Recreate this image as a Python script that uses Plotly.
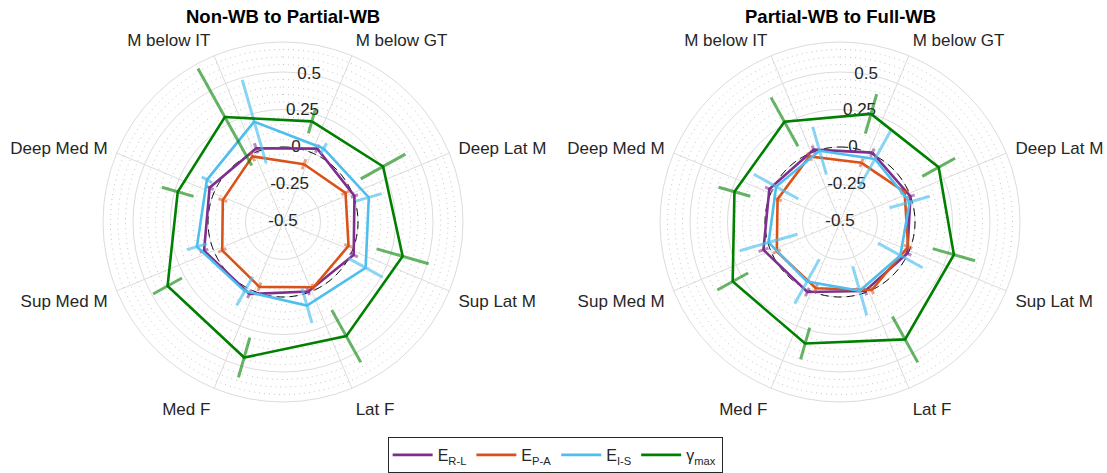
import numpy as np
import plotly.graph_objects as go

categories = ["M below GT", "Deep Lat M", "Sup Lat M", "Lat F",
              "Med F", "Sup Med M", "Deep Med M", "M below IT"]
series_names = ["E<sub>R-L</sub>", "E<sub>P-A</sub>", "E<sub>I-S</sub>", "γ<sub>max</sub>"]
panel_titles = ["Non-WB to Partial-WB", "Partial-WB to Full-WB"]
r_ticks = [-0.5, -0.25, 0, 0.25, 0.5]
r_tick_text = ["-0.5", "-0.25", "0", "0.25", "0.5"]

# Panel 1: Non-WB to Partial-WB
p1_RL = [0.04, 0.007, 0.02, -0.007, 0.03, 0.06, 0.04, 0.023]
p1_RL_err = [0.03, 0.025, 0.03, 0.025, 0.03, 0.03, 0.03, 0.035]
p1_PA = [-0.09, -0.04, -0.035, -0.02, -0.04, -0.053, -0.073, -0.017]
p1_PA_err = [0.035, 0.03, 0.03, 0.025, 0.03, 0.03, 0.03, 0.035]
p1_IS = [0.06, 0.095, 0.13, 0.08, 0.027, 0.097, 0.08, 0.196]
p1_IS_err = [0.04, 0.09, 0.13, 0.12, 0.11, 0.07, 0.04, 0.29]
p1_G = [0.198, 0.263, 0.33, 0.37, 0.44, 0.38, 0.23, 0.30]
p1_G_err = [0.083, 0.17, 0.18, 0.20, 0.137, 0.11, 0.11, 0.37]

# Panel 2: Partial-WB to Full-WB
p2_RL = [0.01, 0.0, -0.005, -0.01, 0.015, 0.043, 0.02, 0.013]
p2_RL_err = [0.03, 0.03, 0.03, 0.03, 0.03, 0.035, 0.03, 0.03]
p2_PA = [-0.08, -0.025, -0.017, 0.0, -0.03, -0.035, -0.057, -0.018]
p2_PA_err = [0.03, 0.03, 0.03, 0.03, 0.03, 0.03, 0.03, 0.03]
p2_IS = [-0.02, -0.017, -0.04, -0.023, -0.047, -0.005, -0.013, -0.006]
p2_IS_err = [0.22, 0.14, 0.17, 0.17, 0.17, 0.20, 0.17, 0.166]
p2_G = [0.25, 0.252, 0.29, 0.395, 0.343, 0.318, 0.232, 0.264]
p2_G_err = [0.137, 0.125, 0.147, 0.175, 0.11, 0.117, 0.11, 0.186]

panels = [
    [(p1_RL, p1_RL_err), (p1_PA, p1_PA_err), (p1_IS, p1_IS_err), (p1_G, p1_G_err)],
    [(p2_RL, p2_RL_err), (p2_PA, p2_PA_err), (p2_IS, p2_IS_err), (p2_G, p2_G_err)],
]

line_colors = ["#7E2F8E", "#D95319", "#4DBEEE", "#008000"]
bar_colors = ["rgba(126,47,142,0.55)", "rgba(217,83,25,0.55)",
              "rgba(77,190,238,0.65)", "rgba(0,128,0,0.6)"]
angle_offsets = [2.5, -2.5, 6.5, -6.5]

base_angles = [22.5 + 45 * i for i in range(len(categories))]
FONT = "Liberation Sans, Arial, sans-serif"
GRID = "#dcdcdc"

fig = go.Figure()
polar_ids = ["polar", "polar2"]

for pi, pid in enumerate(polar_ids):
    # minor dotted circles
    circ_t = np.linspace(0, 360, 361)
    for k in range(-9, 14):
        rv = round(k * 0.05, 4)
        if abs(rv / 0.25 - round(rv / 0.25)) < 1e-6:
            continue
        fig.add_trace(go.Scatterpolar(r=[rv] * len(circ_t), theta=circ_t, mode="lines",
                                      line=dict(color="#c4c4c4", width=1, dash="1px,4px"),
                                      hoverinfo="skip", showlegend=False, subplot=pid))
    # dashed zero circle
    fig.add_trace(go.Scatterpolar(r=[0] * len(circ_t), theta=circ_t, mode="lines",
                                  line=dict(color="black", width=1, dash="8px,5px"),
                                  hoverinfo="skip", showlegend=False, subplot=pid))
    # radial tick labels along 80 deg
    fig.add_trace(go.Scatterpolar(r=r_ticks, theta=[10] * len(r_ticks), mode="text",
                                  text=r_tick_text,
                                  textfont=dict(family=FONT, size=17, color="#262626"),
                                  hoverinfo="skip", showlegend=False, subplot=pid))
    for si, (vals, errs) in enumerate(panels[pi]):
        th = [a + angle_offsets[si] for a in base_angles]
        fig.add_trace(go.Scatterpolar(r=list(vals) + [vals[0]], theta=th + [th[0]],
                                      mode="lines", name=series_names[si],
                                      line=dict(color=line_colors[si], width=2.6),
                                      showlegend=(pi == 0), legendgroup=str(si),
                                      subplot=pid))
        er, et = [], []
        for v, e, t in zip(vals, errs, th):
            er += [v - e, v + e, None]
            et += [t, t, None]
        fig.add_trace(go.Scatterpolar(r=er, theta=et, mode="lines",
                                      line=dict(color=bar_colors[si], width=3),
                                      showlegend=False, hoverinfo="skip",
                                      connectgaps=False, subplot=pid))

W, H = 1107, 473
R = 180
centers = [(283, 222), (840, 222)]


def polar_layout(cx, cy):
    return dict(
        domain=dict(x=[(cx - R) / W, (cx + R) / W], y=[1 - (cy + R) / H, 1 - (cy - R) / H]),
        bgcolor="white",
        angularaxis=dict(rotation=90, direction="clockwise", tickmode="array",
                         tickvals=base_angles, ticktext=categories,
                         showgrid=True, gridcolor=GRID, gridwidth=1,
                         showline=True, linecolor=GRID, linewidth=1,
                         ticks="outside", ticklen=6, tickcolor="rgba(0,0,0,0)",
                         tickfont=dict(family=FONT, size=17, color="#262626")),
        radialaxis=dict(range=[-0.5, 0.7], tickvals=[-0.25, 0, 0.25, 0.5],
                        showticklabels=False, showline=False, ticks="",
                        gridcolor=GRID, gridwidth=1),
    )


fig.update_layout(
    width=W, height=H,
    margin=dict(l=0, r=0, t=0, b=0),
    paper_bgcolor="white",
    polar=polar_layout(*centers[0]),
    polar2=polar_layout(*centers[1]),
    showlegend=True,
    legend=dict(orientation="h", x=0.5015, xanchor="center", y=1 - 455 / H, yanchor="middle",
                bordercolor="#262626", borderwidth=1, bgcolor="white",
                font=dict(family=FONT, size=16, color="#262626"),
                itemwidth=40),
)

for (cx, cy), title in zip(centers, panel_titles):
    fig.add_annotation(x=cx / W, y=1 - 17 / H, xref="paper", yref="paper",
                       text="<b>%s</b>" % title, showarrow=False,
                       font=dict(family=FONT, size=18.5, color="black"),
                       xanchor="center", yanchor="middle")

fig.write_html("out.html", config={"displayModeBar": False},
               post_script="document.body.style.margin='0px';")
